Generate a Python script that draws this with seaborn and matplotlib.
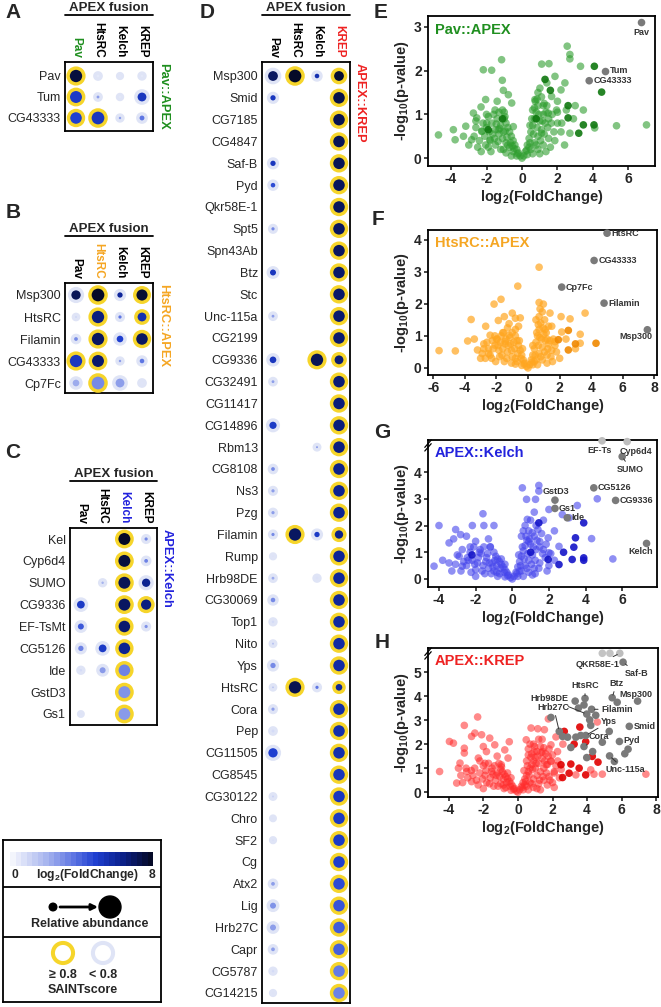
"""
plot.py - APEX proximity labelling: SAINT dot plots (A-D) and volcano plots (E-H)
"""

import numpy as np
import pandas as pd
import matplotlib
matplotlib.use("Agg")
import matplotlib.pyplot as plt
from matplotlib.colors import LinearSegmentedColormap, Normalize
from matplotlib.cm import ScalarMappable
import seaborn as sns

W, H = 661, 1007
nan = np.nan

# -- Dot plot data --------------------------------------------------------------
BAITS = ["Pav", "HtsRC", "Kelch", "KREP"]

# A: Pav::APEX
rows_a = ["Pav", "Tum", "CG43333"]
fc_a = [[7.6, 0.4, 0.3, 0.4],
        [5.0, 2.5, 0.3, 5.2],
        [4.8, 5.2, 2.5, 3.5]]
ab_a = [[0.95, 0.10, 0.03, 0.08],
        [0.90, 0.10, 0.04, 0.55],
        [0.85, 1.00, 0.08, 0.22]]
saint_a = [[1, 0, 0, 0],
           [1, 0, 0, 0],
           [1, 1, 0, 0]]

# B: HtsRC::APEX
rows_b = ["Msp300", "HtsRC", "Filamin", "CG43333", "Cp7Fc"]
fc_b = [[7.2, 8.0, 6.0, 7.8],
        [1.0, 6.5, 3.5, 5.5],
        [3.0, 7.0, 4.8, 7.0],
        [5.2, 6.8, 2.5, 3.5],
        [2.2, 3.0, 2.5, 0.5]]
ab_b = [[0.60, 1.00, 0.25, 0.80],
        [0.05, 0.95, 0.12, 0.55],
        [0.15, 0.95, 0.35, 0.85],
        [0.95, 0.90, 0.08, 0.20],
        [0.35, 1.00, 0.55, 0.10]]
saint_b = [[0, 1, 0, 1],
           [0, 1, 0, 1],
           [0, 1, 0, 1],
           [1, 1, 0, 0],
           [0, 1, 0, 0]]

# C: APEX::Kelch
rows_c = ["Kel", "Cyp6d4", "SUMO", "CG9336", "EF-TsMt", "CG5126", "Ide", "GstD3", "Gs1"]
fc_c = [[nan, nan, 8.0, 3.0],
        [nan, nan, 7.6, 3.2],
        [nan, 2.0, 7.2, 6.2],
        [5.0, nan, 7.0, 6.5],
        [4.2, nan, 6.8, 2.8],
        [3.2, 5.0, 6.2, nan],
        [0.8, 2.6, 3.2, nan],
        [nan, nan, 2.8, nan],
        [0.6, nan, 2.6, nan]]
ab_c = [[0, 0, 0.90, 0.12],
        [0, 0, 0.90, 0.15],
        [0, 0.08, 0.90, 0.50],
        [0.45, 0, 0.90, 0.70],
        [0.30, 0, 0.85, 0.12],
        [0.25, 0.45, 0.85, 0],
        [0.08, 0.30, 0.85, 0],
        [0, 0, 0.90, 0],
        [0.02, 0, 0.90, 0]]
saint_c = [[0, 0, 1, 0],
           [0, 0, 1, 0],
           [0, 0, 1, 0],
           [0, 0, 1, 1],
           [0, 0, 1, 0],
           [0, 0, 1, 0],
           [0, 0, 1, 0],
           [0, 0, 1, 0],
           [0, 0, 1, 0]]

# D: APEX::KREP
rows_d = ["Msp300", "Smid", "CG7185", "CG4847", "Saf-B", "Pyd", "Qkr58E-1", "Spt5",
          "Spn43Ab", "Btz", "Stc", "Unc-115a", "CG2199", "CG9336", "CG32491", "CG11417",
          "CG14896", "Rbm13", "CG8108", "Ns3", "Pzg", "Filamin", "Rump", "Hrb98DE",
          "CG30069", "Top1", "Nito", "Yps", "HtsRC", "Cora", "Pep", "CG11505", "CG8545",
          "CG30122", "Chro", "SF2", "Cg", "Atx2", "Lig", "Hrb27C", "Capr", "CG5787", "CG14215"]
fc_d_pav = [7.0, 5.2, nan, nan, 5.2, 4.5, nan, 3.0, nan, 5.2, nan, 2.5, nan, 5.2, 2.5,
            nan, 5.0, nan, 3.0, 2.5, 2.5, 3.0, 0.6, 2.2, 3.0, 0.8, 1.5, 3.0, 1.5, 2.5,
            0.8, 4.8, nan, 1.0, 0.6, 0.8, nan, 2.5, 2.8, 2.5, 2.5, 0.8, 0.6]
ab_d_pav = [0.65, 0.25, 0, 0, 0.25, 0.2, 0, 0.12, 0, 0.3, 0, 0.1, 0, 0.35, 0.1,
            0, 0.4, 0, 0.15, 0.12, 0.12, 0.12, 0.03, 0.1, 0.2, 0.08, 0.06, 0.25, 0.05, 0.12,
            0.1, 0.6, 0, 0.06, 0.02, 0.03, 0, 0.15, 0.3, 0.3, 0.15, 0.08, 0.03]
fc_d_htsrc = {"Msp300": 8.0, "Filamin": 7.0, "HtsRC": 7.3}
ab_d_htsrc = {"Msp300": 1.0, "Filamin": 0.95, "HtsRC": 0.95}
saint_d_htsrc = {"Msp300": 1, "Filamin": 1, "HtsRC": 1}
fc_d_kelch = {"Msp300": 5.5, "CG9336": 7.2, "Rbm13": 2.5, "Filamin": 5.0, "Hrb98DE": 0.6, "HtsRC": 3.5}
ab_d_kelch = {"Msp300": 0.2, "CG9336": 0.95, "Rbm13": 0.06, "Filamin": 0.25, "Hrb98DE": 0.08, "HtsRC": 0.12}
saint_d_kelch = {"CG9336": 1}
fc_d_krep = [7.8, 7.4, 7.3, 7.2, 7.2, 7.1, 7.1, 7.0, 7.0, 6.9, 6.9, 6.8, 6.8, 6.7, 6.7,
             6.6, 6.6, 6.5, 6.3, 6.2, 6.2, 6.4, 6.1, 6.0, 6.0, 5.9, 5.8, 5.8, 6.0, 5.7,
             5.6, 5.6, 5.3, 5.2, 5.1, 5.0, 4.9, 4.5, 4.3, 4.1, 4.0, 3.4, 3.2]
ab_d_krep = {"Msp300": 0.65, "CG9336": 0.55, "Filamin": 0.5, "HtsRC": 0.35}  # rest 0.85

# -- Volcano data (log2 FoldChange, -log10 p) -----------------------------------
e_cloud = [(-4.71, 0.53), (-3.87, 0.65), (-3.3, 0.5), (-3.17, 0.73), (-3.77, 0.42), (-2.84, 0.42),
           (-2.74, 1.03), (-2.55, 0.92), (-2.31, 1.17), (-2.27, 0.61), (-2.18, 2.02), (-2.05, 1.34),
           (-1.99, 0.8), (-1.8, 0.42), (-1.71, 2.01), (-1.52, 1.1), (-1.33, 0.65), (-1.15, 2.25),
           (-1.11, 1.78), (-1.05, 1.55), (-0.96, 0.95), (-0.77, 1.45), (-0.58, 1.26), (-0.49, 0.72),
           (0.73, 1.34), (1.01, 1.6), (1.11, 2.15), (1.4, 1.72), (1.52, 2.16), (1.67, 1.41),
           (1.86, 1.87), (1.95, 1.1), (1.48, 1.03), (1.1, 0.57), (2.2, 1.56), (2.42, 1.72),
           (2.24, 0.8), (2.55, 2.56), (2.7, 2.37), (2.7, 2.27), (2.7, 0.57), (3.3, 2.1),
           (3.46, 1.1), (4.1, 0.69), (5.33, 0.74), (7.02, 0.76), (-2.6, 0.7), (-3.0, 0.3),
           (-2.0, 1.0), (-1.4, 1.3), (0.9, 1.5), (1.2, 1.2), (2.0, 1.3), (2.9, 0.9),
           (3.0, 1.2), (2.5, 1.1)]
e_core = [(0.0, 0.0), (-0.1, 0.05), (-0.2, 0.12), (-0.3, 0.2), (-0.4, 0.3), (-0.5, 0.4), (-0.6, 0.5),
          (-0.7, 0.6), (-0.8, 0.7), (-0.9, 0.8), (-1.0, 0.9), (-0.3, 0.05), (-0.5, 0.15), (-0.7, 0.25),
          (-0.9, 0.35), (-1.1, 0.45), (-1.3, 0.55), (-1.5, 0.65), (-0.6, 0.05), (-0.9, 0.12),
          (-1.2, 0.2), (-1.5, 0.3), (-1.8, 0.4), (-2.1, 0.5), (-1.2, 0.75), (-1.4, 0.9), (-1.7, 0.8),
          (-2.0, 0.7), (-1.6, 1.0), (-1.0, 1.05), (-1.9, 0.25), (-2.4, 0.4), (-2.2, 0.8),
          (0.1, 0.05), (0.2, 0.15), (0.3, 0.3), (0.4, 0.45), (0.5, 0.6), (0.6, 0.75), (0.7, 0.9),
          (0.8, 1.05), (0.3, 0.08), (0.5, 0.2), (0.7, 0.35), (0.9, 0.5), (1.1, 0.65), (1.3, 0.8),
          (0.6, 0.1), (0.9, 0.2), (1.2, 0.3), (1.5, 0.45), (1.8, 0.6), (1.0, 0.85), (1.2, 1.0),
          (0.9, 1.2), (0.6, 1.1), (1.5, 0.9), (2.0, 0.8), (1.6, 0.25), (0.75, 1.3), (1.1, 1.4),
          (1.4, 1.2),
          (-0.25, 0.1), (-0.45, 0.22), (-0.65, 0.35), (-0.85, 0.48), (-1.05, 0.6), (-1.25, 0.68),
          (-1.45, 0.78), (-1.65, 0.55), (-1.85, 0.6), (-2.05, 0.3), (-2.25, 0.62), (-2.5, 0.25),
          (-2.7, 0.5), (-1.35, 0.38), (-1.05, 0.2), (-0.8, 0.3), (-0.55, 0.28), (-1.75, 0.15),
          (-2.3, 0.15), (-1.1, 1.1), (-1.3, 1.05), (-0.95, 0.62), (-1.55, 0.45), (-2.6, 0.85),
          (-1.9, 0.95), (0.25, 0.18), (0.45, 0.35), (0.65, 0.55), (0.85, 0.7), (1.05, 0.4),
          (1.25, 0.55), (1.45, 0.7), (1.65, 0.8), (1.85, 0.4), (1.35, 0.15), (0.8, 0.3),
          (0.4, 0.25), (0.55, 0.9), (0.7, 1.15), (0.95, 1.0), (1.15, 0.85), (1.35, 1.05),
          (1.7, 1.0), (2.2, 0.6), (2.4, 0.3), (0.85, 1.35), (1.25, 1.25), (2.0, 1.05),
          (0.45, 0.75), (1.0, 0.1)]
e_dark = [(4.08, 2.1), (4.49, 1.51), (4.06, 0.76), (3.46, 0.76), (2.6, 0.92), (2.6, 1.2),
          (3.2, 0.57), (1.6, 1.55), (1.3, 1.8), (-1.1, 0.9), (-1.9, 0.65), (0.8, 0.9)]
e_hits = ["Pav", "Tum", "CG43333"]
e_hit_fc = [6.74, 4.71, 3.79]
e_hit_p = [3.10, 1.98, 1.77]

f_cloud = [(-5.63, 0.54), (-4.6, 0.53), (-3.82, 0.84), (-3.6, 1.51), (-3.2, 0.56), (-3.0, 0.3),
           (-2.68, 1.3), (-2.4, 1.02), (-2.15, 1.99), (-2.09, 0.71), (-1.88, 1.48), (-1.71, 2.14),
           (-1.46, 0.82), (-1.2, 1.38), (-1.2, 1.02), (-1.0, 1.71), (-0.65, 2.55), (-0.49, 1.56),
           (0.7, 3.14), (0.7, 2.04), (0.97, 1.99), (0.76, 1.84), (1.08, 1.2), (1.39, 1.71),
           (1.5, 1.3), (1.71, 0.82), (2.09, 1.6), (2.13, 1.12), (2.66, 1.53), (3.0, 0.6),
           (3.3, 1.05), (3.3, 0.77), (3.61, 1.71), (-2.8, 0.6), (-2.5, 0.45), (-1.6, 1.1),
           (-0.8, 1.2), (0.5, 1.5), (1.2, 0.9), (2.4, 0.9), (-3.4, 0.9), (-2.0, 0.9),
           (-1.5, 1.6), (-0.8, 1.55)]
f_core = [(0.0, 0.0), (-0.1, 0.05), (-0.2, 0.15), (-0.3, 0.25), (-0.4, 0.4), (-0.5, 0.55), (-0.6, 0.7),
          (-0.7, 0.85), (-0.8, 1.0), (-0.4, 0.08), (-0.7, 0.2), (-1.0, 0.35), (-1.3, 0.5), (-1.6, 0.6),
          (-1.9, 0.7), (-2.2, 0.6), (-1.1, 0.75), (-1.4, 0.9), (-1.0, 1.1), (-1.8, 0.35), (-2.4, 0.4),
          (-2.6, 0.8), (-0.8, 0.12), (-1.5, 0.2), (-2.9, 0.45), (-1.7, 1.0), (-2.1, 1.0), (-1.3, 1.25),
          (-0.6, 1.3), (0.1, 0.1), (0.2, 0.25), (0.3, 0.4), (0.4, 0.6), (0.5, 0.8), (0.6, 1.0),
          (0.7, 1.2), (0.3, 0.1), (0.5, 0.25), (0.7, 0.45), (0.9, 0.65), (1.1, 0.85), (0.6, 0.1),
          (0.9, 0.25), (1.2, 0.4), (1.5, 0.55), (1.8, 0.5), (1.0, 1.05), (0.8, 1.4), (1.3, 0.75),
          (1.6, 0.9), (0.7, 1.6), (0.9, 1.75), (2.0, 0.3), (1.2, 0.15),
          (-0.25, 0.12), (-0.45, 0.3), (-0.65, 0.45), (-0.85, 0.6), (-1.05, 0.55), (-1.25, 0.7),
          (-1.45, 0.75), (-1.65, 0.4), (-1.85, 0.55), (-2.05, 0.2), (-2.25, 0.85), (-2.5, 0.6),
          (-2.7, 0.3), (-1.35, 0.3), (-1.05, 0.15), (-0.8, 0.3), (-0.55, 0.85), (-1.75, 0.8),
          (-2.3, 0.3), (-1.15, 0.95), (-0.9, 0.8), (-1.55, 1.1), (-1.95, 0.9), (-2.8, 0.75),
          (-0.35, 0.6), (0.25, 0.18), (0.45, 0.4), (0.65, 0.7), (0.85, 0.9), (1.05, 0.5),
          (1.25, 0.6), (1.45, 0.35), (0.8, 0.35), (0.4, 0.2), (0.55, 1.1), (0.75, 0.95),
          (0.95, 1.25), (1.15, 1.1), (1.4, 0.85), (1.7, 0.7), (0.65, 1.35), (1.05, 1.5),
          (1.3, 1.3), (0.3, 0.7), (1.55, 0.2)]
f_dark = [(4.3, 0.77), (2.55, 0.56), (2.55, 1.17), (1.92, 0.88), (3.0, 0.75)]
f_hits = ["HtsRC", "CG43333", "Cp7Fc", "Filamin", "Msp300"]
f_hit_fc = [5.0, 4.18, 2.13, 4.81, 7.55]
f_hit_p = [4.2, 3.35, 2.52, 2.02, 1.19]

g_cloud = [(-4.0, 2.0), (-4.27, 0.48), (-3.45, 0.6), (-3.45, 1.35), (-3.09, 1.85), (-2.82, 1.66),
           (-2.73, 1.1), (-2.73, 0.48), (-2.18, 2.0), (-2.0, 1.41), (-1.6, 2.44), (-1.55, 2.0),
           (-1.0, 2.0), (-3.0, 0.9), (-2.4, 0.7), (-2.3, 1.2), (-1.8, 1.0), (-1.3, 1.5),
           (-3.8, 0.7), (-3.2, 1.5), (-2.5, 1.6), (-1.2, 1.2), (0.55, 3.41), (1.45, 3.5),
           (1.45, 3.29), (0.78, 2.98), (1.27, 2.98), (2.0, 2.6), (3.55, 2.75), (2.73, 2.41),
           (3.1, 2.29), (4.64, 3.0), (4.33, 1.51), (5.49, 0.75), (2.55, 1.22), (1.96, 1.54),
           (1.09, 1.73), (0.82, 2.23), (2.0, 0.98), (1.5, 1.2), (2.3, 1.8), (0.9, 1.4),
           (1.7, 2.2), (1.2, 2.5)]
g_core = [(0.0, 0.0), (-0.1, 0.05), (-0.2, 0.15), (-0.3, 0.25), (-0.4, 0.35), (-0.5, 0.45), (-0.6, 0.55),
          (-0.7, 0.65), (-0.8, 0.75), (-0.9, 0.85), (-0.4, 0.08), (-0.7, 0.2), (-1.0, 0.3), (-1.3, 0.4),
          (-1.6, 0.5), (-1.9, 0.6), (-2.2, 0.7), (-1.1, 0.6), (-1.4, 0.8), (-1.7, 0.95), (-2.0, 0.35),
          (-2.5, 0.5), (-2.8, 0.3), (-1.0, 1.0), (-2.3, 1.0), (-0.8, 0.1), (-1.5, 0.2), (-3.1, 0.55),
          (-1.2, 1.2), (0.1, 0.1), (0.2, 0.25), (0.3, 0.45), (0.4, 0.65), (0.5, 0.85), (0.6, 1.05),
          (0.7, 1.25), (0.8, 1.45), (0.3, 0.1), (0.5, 0.3), (0.7, 0.5), (0.9, 0.7), (1.1, 0.9),
          (1.3, 1.1), (0.6, 0.1), (0.9, 0.25), (1.2, 0.4), (1.5, 0.6), (1.8, 0.8), (1.0, 1.3),
          (1.2, 1.6), (0.9, 1.8), (1.5, 1.4), (1.7, 1.1), (0.5, 1.6), (1.1, 0.15), (2.0, 0.5),
          (0.7, 2.0), (1.3, 2.0),
          (-0.25, 0.12), (-0.45, 0.25), (-0.65, 0.4), (-0.85, 0.5), (-1.05, 0.45), (-1.25, 0.6),
          (-1.45, 0.65), (-1.65, 0.3), (-1.85, 0.8), (-2.05, 0.55), (-2.25, 0.25), (-2.45, 0.8),
          (-2.65, 0.65), (-1.35, 0.95), (-1.15, 0.2), (-0.85, 0.25), (-0.6, 0.75), (-1.75, 1.1),
          (-2.9, 0.85), (-1.55, 1.2), (-0.95, 0.7), (-2.1, 1.2), (-3.3, 0.3), (-0.4, 0.55),
          (-2.0, 0.1), (0.25, 0.2), (0.45, 0.5), (0.65, 0.75), (0.85, 0.95), (1.05, 0.55),
          (1.25, 0.7), (1.45, 0.4), (1.65, 0.95), (0.8, 0.4), (0.4, 0.3), (0.55, 1.2),
          (0.75, 1.6), (0.95, 1.5), (1.15, 1.2), (1.35, 1.45), (1.6, 1.7), (1.85, 1.3),
          (2.1, 0.95), (0.6, 1.8), (1.0, 2.2), (1.4, 1.85), (2.3, 0.7), (0.35, 0.9),
          (1.25, 0.2), (1.9, 0.3)]
g_dark = [(3.9, 2.1), (3.45, 1.54), (3.36, 1.19), (3.9, 0.79), (3.9, 0.7), (3.27, 0.73),
          (2.55, 0.54), (1.96, 0.73), (1.45, 2.1), (2.8, 1.0), (-2.2, 0.9), (1.0, 1.0)]
g_hits = ["EF-Ts", "Cyp6d4", "SUMO", "GstD3", "Gs1", "Ide", "CG5126", "CG9336", "Kelch"]
g_hit_fc = [4.9, 6.27, 6.0, 2.33, 2.33, 3.0, 4.45, 5.64, 7.33]
g_hit_p = [5.17, 5.14, 4.58, 2.95, 2.64, 2.29, 3.41, 2.94, 1.33]

h_cloud = [(-4.53, 0.86), (-3.96, 2.11), (-3.73, 2.04), (-3.1, 2.78), (-2.33, 3.13), (-3.1, 1.83),
           (-3.1, 1.63), (-2.49, 2.46), (-2.1, 2.39), (-1.63, 2.25), (-2.68, 2.32), (-3.35, 1.21),
           (-3.44, 1.0), (-2.96, 0.86), (-2.29, 1.42), (-1.82, 1.69), (-1.34, 1.97), (-0.76, 1.76),
           (-0.57, 1.42), (-0.96, 1.14), (-1.53, 0.86), (-2.68, 0.44), (-3.54, 0.38), (0.76, 2.67),
           (1.15, 2.64), (1.53, 2.6), (0.48, 2.18), (0.96, 1.9), (1.43, 1.69), (1.91, 1.97),
           (2.29, 1.69), (3.35, 0.72), (4.4, 0.75), (4.88, 0.75), (4.21, 0.93), (7.4, 0.75),
           (2.1, 0.86), (1.91, 1.28), (1.63, 1.14), (1.76, 3.05), (4.59, 2.92), (-2.0, 1.9),
           (-1.2, 1.5), (2.6, 2.0), (2.2, 2.3), (1.4, 2.2), (-0.5, 2.1), (-1.9, 1.2)]
h_core = [(0.0, 0.0), (-0.1, 0.05), (-0.2, 0.15), (-0.3, 0.25), (-0.4, 0.35), (-0.5, 0.45), (-0.6, 0.55),
          (-0.7, 0.65), (-0.8, 0.75), (-0.9, 0.85), (-1.0, 0.95), (-0.4, 0.08), (-0.7, 0.2), (-1.0, 0.35),
          (-1.3, 0.5), (-1.6, 0.6), (-1.9, 0.7), (-2.2, 0.8), (-1.2, 0.8), (-1.5, 1.0), (-1.8, 0.4),
          (-2.4, 0.5), (-2.7, 0.9), (-1.1, 1.2), (-2.0, 1.1), (-0.8, 0.15), (-1.4, 0.25), (-2.9, 0.6),
          (-3.2, 0.4), (0.1, 0.1), (0.2, 0.25), (0.3, 0.4), (0.4, 0.55), (0.5, 0.7), (0.6, 0.85),
          (0.7, 1.0), (0.8, 1.15), (0.9, 1.3), (1.0, 1.45), (0.3, 0.1), (0.5, 0.25), (0.7, 0.4),
          (0.9, 0.55), (1.1, 0.7), (1.3, 0.85), (1.5, 1.0), (1.7, 1.15), (0.6, 0.1), (0.9, 0.2),
          (1.2, 0.35), (1.5, 0.5), (1.8, 0.65), (2.1, 0.8), (1.0, 1.0), (1.2, 1.2), (1.4, 1.4),
          (0.8, 1.6), (1.1, 1.7), (1.6, 1.6), (1.9, 1.3), (2.2, 1.1), (0.5, 1.3), (0.6, 1.8),
          (1.3, 1.9), (1.8, 1.8), (2.0, 0.4), (1.1, 0.15), (0.7, 2.0),
          (-0.25, 0.12), (-0.45, 0.25), (-0.65, 0.4), (-0.85, 0.55), (-1.05, 0.65), (-1.25, 0.7),
          (-1.45, 0.75), (-1.65, 0.35), (-1.85, 0.9), (-2.05, 0.55), (-2.3, 0.3), (-2.5, 1.0),
          (-2.6, 0.7), (-1.35, 1.1), (-1.15, 0.25), (-0.85, 0.3), (-0.6, 0.8), (-1.7, 1.2),
          (-3.0, 1.0), (-2.2, 1.3), (-0.95, 1.05), (-3.3, 0.7), (-0.4, 0.6), (-2.0, 0.15),
          (0.25, 0.2), (0.45, 0.45), (0.65, 0.7), (0.85, 0.95), (1.05, 1.2), (1.25, 0.5),
          (1.45, 0.65), (1.65, 0.8), (1.85, 0.5), (0.8, 0.35), (0.4, 0.3), (0.55, 1.1),
          (0.75, 1.45), (0.95, 1.7), (1.15, 1.5), (1.35, 1.65), (1.55, 1.3), (1.75, 1.5),
          (2.0, 1.55), (2.3, 1.3), (0.6, 1.55), (0.9, 2.0), (1.5, 1.85), (2.4, 0.6),
          (2.1, 0.2), (1.3, 0.1), (0.35, 0.9), (1.7, 0.3), (2.5, 0.95), (1.2, 2.2)]
h_dark = [(2.49, 1.14), (3.06, 1.17), (2.96, 0.79), (3.54, 1.0), (2.58, 0.61), (3.92, 0.72),
          (4.63, 1.25), (4.3, 1.49), (3.25, 2.0), (3.58, 2.71), (3.92, 2.1), (2.68, 2.53)]
h_gray = [(4.88, 5.78), (5.32, 5.78), (5.74, 3.74), (3.31, 3.79), (3.82, 3.63), (1.91, 3.11),
          (4.15, 3.01), (5.28, 2.53), (4.21, 2.78), (2.87, 2.29), (3.35, 2.29), (3.63, 2.36),
          (2.58, 2.32), (3.06, 1.86), (4.32, 1.69), (4.88, 2.08), (6.37, 1.79), (6.18, 1.6),
          (5.58, 1.28), (3.98, 1.44), (3.5, 3.5), (4.5, 3.2)]
h_hits = ["QKR58E-1", "Saf-B", "Btz", "Msp300", "HtsRC", "Hrb98DE", "Hrb27C", "Filamin",
          "Yps", "Cora", "Smid", "Pyd", "Unc-115a"]
h_hit_fc = [5.89, 6.08, 5.45, 6.92, 3.88, 3.98, 2.39, 4.26, 3.92, 3.82, 6.44, 5.87, 5.3]
h_hit_p = [5.78, 5.41, 3.93, 3.79, 3.9, 3.25, 2.53, 3.45, 2.36, 1.9, 2.74, 2.11, 1.51]

# -- Label placement (offset in points, alignment, leader line) ----------------
E_LAB = {"Pav": (0, -7, "center", False), "Tum": (3, 1, "left", False),
         "CG43333": (3, 0, "left", False)}
F_LAB = {"HtsRC": (3, 0, "left", False), "CG43333": (3, 0, "left", False),
         "Cp7Fc": (3, 0, "left", False), "Filamin": (3, 0, "left", False),
         "Msp300": (-8, -5, "center", False)}
G_LAB = {"EF-Ts": (-2, -7, "center", False), "Cyp6d4": (6, -7, "center", False),
         "SUMO": (6, -9, "center", True), "GstD3": (1, 6, "center", False),
         "Gs1": (3, 0, "left", False), "Ide": (3, 0, "left", False),
         "CG5126": (3, 0, "left", False), "CG9336": (3, 0, "left", False),
         "Kelch": (-4, -6, "center", False)}
H_LAB = {"QKR58E-1": (-16, -8, "center", True), "Saf-B": (10, -8, "center", True),
         "Btz": (3, 10, "center", True), "Msp300": (-1, 5, "center", False),
         "HtsRC": (0, 9, "center", True), "Hrb98DE": (-27, 11, "center", True),
         "Hrb27C": (-4, 17, "center", True), "Filamin": (7, 0, "left", True),
         "Yps": (17, 10, "center", True), "Cora": (11, 7, "center", True),
         "Smid": (3, 0, "left", False), "Pyd": (3, 1, "left", False),
         "Unc-115a": (11, -10, "center", True)}

# -- Style ----------------------------------------------------------------------
sns.set_style("white")
plt.rcParams["font.family"] = ["Liberation Sans", "DejaVu Sans"]
plt.rcParams["mathtext.fontset"] = "custom"
plt.rcParams["mathtext.rm"] = "Liberation Sans"
plt.rcParams["mathtext.bf"] = "Liberation Sans:bold"
plt.rcParams["mathtext.default"] = "bf"
plt.rcParams["axes.unicode_minus"] = False

FC_CMAP = LinearSegmentedColormap.from_list(
    "fc", [(0, "#f3f5fc"), (0.25, "#a5b3ee"), (0.45, "#5a72e2"),
           (0.6, "#1f3fd0"), (0.78, "#0c2290"), (1.0, "#050a28")])
YELLOW = "#f6d52a"
HALO = "#dfe4f6"
C_GREEN, C_ORANGE, C_BLUE, C_RED = "#1f8f1f", "#f5a623", "#2222dd", "#ee2222"
NARROW = ["Liberation Sans Narrow", "Liberation Sans"]
PT_SIZE = 30

fig = plt.figure(figsize=(W / 100, H / 100), dpi=100)


def px_rect(l, t, r, b):
    return [l / W, 1 - b / H, (r - l) / W, (b - t) / H]


def ftext(x, y, s, **kw):
    fig.text(x / W, 1 - y / H, s, **kw)


# -- Dot plot panels ------------------------------------------------------------
def dot_panel(box, y_first, y_last, rows, fc, ab, saint, hl, side, color):
    l, t, r, b = box
    ax = fig.add_axes(px_rect(l, t, r, b))
    recs = []
    for i, row in enumerate(rows):
        for j in range(len(BAITS)):
            if not np.isnan(fc[i][j]):
                recs.append((j, i, fc[i][j], ab[i][j], saint[i][j]))
    df = pd.DataFrame(recs, columns=["bait", "prey", "fc", "ab", "saint"])
    edges = [YELLOW if s else HALO for s in df["saint"]]
    sns.scatterplot(data=df, x="bait", y="prey", hue="fc", palette=FC_CMAP, hue_norm=(0, 8),
                    size="ab", sizes=(8, 135), size_norm=(0, 1), edgecolor=edges,
                    linewidth=2.45, legend=False, ax=ax, zorder=3, clip_on=False)
    n = len(rows)
    pitch = (y_last - y_first) / (n - 1)
    ax.set_xlim(-0.5, 3.5)
    ax.set_ylim(n - 1 + (b - y_last) / pitch, -(y_first - t) / pitch)
    ax.set_xticks([])
    ax.set_yticks(range(n))
    ax.set_yticklabels(rows, fontsize=9)
    ax.tick_params(axis="y", length=0, pad=3)
    ax.set_xlabel("")
    ax.set_ylabel("")
    for sp in ax.spines.values():
        sp.set_visible(True)
        sp.set_linewidth(1.3)
        sp.set_color("black")
    for j, bait in enumerate(BAITS):
        ax.annotate(bait, xy=(j, 1), xycoords=("data", "axes fraction"), xytext=(0, 3),
                    textcoords="offset points", rotation=270, ha="center", va="bottom",
                    fontsize=8.5, fontweight="bold", color=color if j == hl else "black")
    hpx = b - t
    ax.annotate("APEX fusion", xy=(0.5, 1 + 54 / hpx), xycoords="axes fraction",
                ha="center", va="center", fontsize=9.5, fontweight="bold")
    ax.plot([0, 1], [1 + 47 / hpx] * 2, transform=ax.transAxes, color="black",
            lw=1.3, clip_on=False)
    ax.annotate(side, xy=(1, 1), xycoords="axes fraction", xytext=(3, -1),
                textcoords="offset points", rotation=270, ha="left", va="top",
                fontsize=9.3, fontweight="bold", color=color)
    return ax


def dense_column(rows, values, default=nan):
    return [values.get(r, default) for r in rows]


dot_panel((65, 62, 153, 131), 76, 118, rows_a, fc_a, ab_a, saint_a, 0, "Pav::APEX", C_GREEN)
dot_panel((65, 283, 153, 393), 295, 383, rows_b, fc_b, ab_b, saint_b, 1, "HtsRC::APEX", C_ORANGE)
dot_panel((70, 528, 157, 725), 539, 714, rows_c, fc_c, ab_c, saint_c, 2, "APEX::Kelch", C_BLUE)

cols_fc = [fc_d_pav, dense_column(rows_d, fc_d_htsrc), dense_column(rows_d, fc_d_kelch), fc_d_krep]
cols_ab = [ab_d_pav, dense_column(rows_d, ab_d_htsrc, 0), dense_column(rows_d, ab_d_kelch, 0),
           dense_column(rows_d, ab_d_krep, 0.85)]
cols_sa = [[0] * len(rows_d), dense_column(rows_d, saint_d_htsrc, 0),
           dense_column(rows_d, saint_d_kelch, 0), [1] * len(rows_d)]
fc_d = [list(v) for v in zip(*cols_fc)]
ab_d = [list(v) for v in zip(*cols_ab)]
saint_d = [list(v) for v in zip(*cols_sa)]
dot_panel((262, 62, 350, 1003), 76, 993, rows_d, fc_d, ab_d, saint_d, 3, "APEX::KREP", C_RED)

# -- Legend box -----------------------------------------------------------------
lg = fig.add_axes(px_rect(3, 840, 161, 1002))
lg.set_xlim(0, 158)
lg.set_ylim(162, 0)
lg.set_xticks([])
lg.set_yticks([])
for sp in lg.spines.values():
    sp.set_visible(True)
    sp.set_linewidth(1.3)
    sp.set_color("black")
lg.axhline(47, color="black", lw=1.3)
lg.axhline(97, color="black", lw=1.3)
cax = fig.add_axes(px_rect(10, 852, 153, 866))
cb = fig.colorbar(ScalarMappable(norm=Normalize(0, 8), cmap=FC_CMAP.resampled(26)),
                  cax=cax, orientation="horizontal")
cb.outline.set_visible(False)
cax.set_xticks([])
lg.text(12, 35, "0", ha="center", va="center", fontsize=8.7, fontweight="bold")
lg.text(84, 35, r"log$_2$(FoldChange)", ha="center", va="center", fontsize=8.7, fontweight="bold")
lg.text(149, 35, "8", ha="center", va="center", fontsize=8.7, fontweight="bold")
lg.scatter([50, 107], [67, 67], s=[30, 250], color="black", zorder=3)
lg.annotate("", xy=(95, 67), xytext=(57, 67),
            arrowprops=dict(arrowstyle="-|>", lw=2, color="black", mutation_scale=9,
                            shrinkA=0, shrinkB=0))
lg.text(87, 84, "Relative abundance", ha="center", va="center", fontsize=9, fontweight="bold")
lg.scatter([60, 100], [113, 113], s=210, facecolor="white", edgecolor=[YELLOW, HALO],
           linewidth=2.9, zorder=3)
lg.text(60, 135, "\u2265 0.8", ha="center", va="center", fontsize=9, fontweight="bold")
lg.text(100, 135, "< 0.8", ha="center", va="center", fontsize=9, fontweight="bold")
lg.text(80, 150, "SAINTscore", ha="center", va="center", fontsize=9, fontweight="bold")


# -- Volcano panels -------------------------------------------------------------
def volcano(box, cloud, core, dark, hits, hfc, hp, layout, color, dark_color, alpha,
            xlim, ylim, xticks, yticks, title, title_color, gray=(), faded=(), broken=False):
    ax = fig.add_axes(px_rect(*box))
    pts = pd.DataFrame(list(cloud) + list(core), columns=["fc", "p"])
    sns.scatterplot(data=pts, x="fc", y="p", color=color, alpha=alpha, s=PT_SIZE,
                    edgecolor="none", ax=ax, legend=False, clip_on=False)
    dk = pd.DataFrame(dark, columns=["fc", "p"])
    sns.scatterplot(data=dk, x="fc", y="p", color=dark_color, alpha=0.9, s=PT_SIZE,
                    edgecolor="none", ax=ax, legend=False)
    if len(gray):
        gr = pd.DataFrame(gray, columns=["fc", "p"])
        gcol = ["#c4c4c4" if p > 5.5 else "#7a7a7a" for p in gr["p"]]
        ax.scatter(gr["fc"], gr["p"], c=gcol, s=PT_SIZE, edgecolor="none", clip_on=False, zorder=3)
    hcol = ["#bdbdbd" if h in faded else "#7a7a7a" for h in hits]
    ax.scatter(hfc, hp, c=hcol, s=PT_SIZE, edgecolor="none", clip_on=False, zorder=4)
    for name, x, y in zip(hits, hfc, hp):
        dx, dy, ha, line = layout[name]
        ax.annotate(name, (x, y), xytext=(dx, dy), textcoords="offset points", ha=ha,
                    va="center", fontsize=6.5, fontweight="bold", family=NARROW,
                    color="#333333", zorder=5,
                    arrowprops=dict(arrowstyle="-", lw=0.7, color="#333333",
                                    shrinkA=0, shrinkB=2) if line else None)
    ax.set_xlim(*xlim)
    ax.set_ylim(*ylim)
    ax.set_xticks(xticks)
    ax.set_yticks(yticks)
    ax.tick_params(labelsize=10, width=1.2, length=3, pad=1.5,
                   bottom=True, left=True, direction="out")
    for lab in ax.get_xticklabels() + ax.get_yticklabels():
        lab.set_fontweight("bold")
    for sp in ax.spines.values():
        sp.set_visible(True)
        sp.set_linewidth(1.3)
        sp.set_color("black")
    ax.set_xlabel(r"log$_2$(FoldChange)", fontsize=10.5, fontweight="bold", labelpad=1)
    ax.set_ylabel(r"-log$_{10}$(p-value)", fontsize=10.5, fontweight="bold", labelpad=2)
    ax.text(0.03, 0.91, title, transform=ax.transAxes, fontsize=10.5, fontweight="bold",
            color=title_color, va="center")
    if broken:
        for off in (0.0, 0.025):
            ax.plot([-0.014, 0.014], [0.925 + off, 0.975 + off], transform=ax.transAxes,
                    color="black", lw=0.9, clip_on=False, zorder=6)
    return ax


volcano((428, 16, 655, 166), e_cloud, e_core, e_dark, e_hits, e_hit_fc, e_hit_p, E_LAB,
        "#2f9e2f", "#0f780f", 0.6, (-5.3, 7.5), (-0.18, 3.25), [-4, -2, 0, 2, 4, 6],
        [0, 1, 2, 3], "Pav::APEX", C_GREEN)
volcano((428, 230, 657, 375), f_cloud, f_core, f_dark, f_hits, f_hit_fc, f_hit_p, F_LAB,
        "#ffa620", "#f08800", 0.7, (-6.33, 8.16), (-0.22, 4.3), [-6, -4, -2, 0, 2, 4, 6, 8],
        [0, 1, 2, 3, 4], "HtsRC::APEX", C_ORANGE)
volcano((428, 440, 657, 587), g_cloud, g_core, g_dark, g_hits, g_hit_fc, g_hit_p, G_LAB,
        "#4545ec", "#1414c8", 0.6, (-4.6, 7.9), (-0.3, 5.2), [-4, -2, 0, 2, 4, 6],
        [0, 1, 2, 3, 4], "APEX::Kelch", C_BLUE, faded=("EF-Ts", "Cyp6d4"), broken=True)
volcano((428, 648, 658, 797), h_cloud, h_core, h_dark, h_hits, h_hit_fc, h_hit_p, H_LAB,
        "#ff2a2a", "#e00000", 0.55, (-5.2, 8.1), (-0.2, 6.0), [-4, -2, 0, 2, 4, 6, 8],
        [0, 1, 2, 3, 4, 5], "APEX::KREP", C_RED, gray=h_gray, faded=("QKR58E-1",),
        broken=True)

# -- Panel letters --------------------------------------------------------------
for letter, x, y in [("A", 13, 12), ("B", 13, 212), ("C", 13, 452), ("D", 207, 12),
                     ("E", 381, 13), ("F", 378, 219), ("G", 382, 432), ("H", 382, 643)]:
    ftext(x, y, letter, ha="center", va="center", fontsize=15, fontweight="bold")

fig.savefig("out.png", dpi=100)
